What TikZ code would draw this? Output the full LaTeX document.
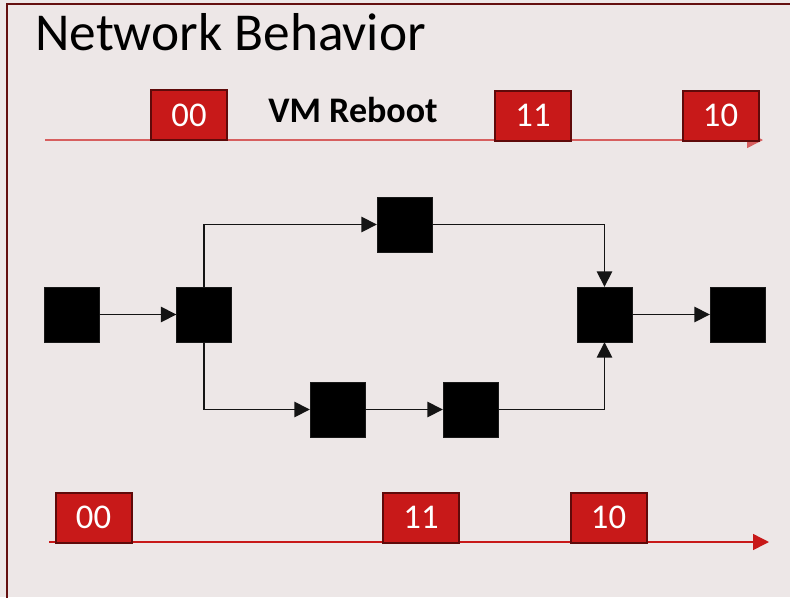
\documentclass[tikz,border=0pt]{standalone}
\usepackage{fontspec}
\setmainfont{Carlito}
\usetikzlibrary{arrows.meta}
\definecolor{bg}{RGB}{237,231,231}
\definecolor{framec}{RGB}{100,15,15}
\definecolor{boxred}{RGB}{200,25,25}
\definecolor{boxedge}{RGB}{95,10,10}
\definecolor{lightline}{RGB}{215,95,95}
\definecolor{darkline}{RGB}{200,25,25}
\definecolor{connc}{RGB}{20,20,20}
\begin{document}
\begin{tikzpicture}[x=0.75pt,y=-0.75pt,
  blk/.style={fill=black,draw=black!80!gray,line width=0.3pt,minimum size=41.25pt,inner sep=0pt},
  tbox/.style={fill=boxred,draw=boxedge,line width=1.5pt,minimum width=57pt,minimum height=37.5pt,inner sep=0pt,text=white,font=\fontsize{26}{26}\selectfont},
  conn/.style={draw=connc,line width=1.2pt,-{Triangle[length=11.5pt,width=11.5pt]}},
  tline/.style={line width=1.1pt,-{Triangle[length=12pt,width=12pt]}}]
\useasboundingbox (0,0) rectangle (790,597);
\fill[bg] (0,0) rectangle (790,597);
\draw[framec,line width=1.6pt] (7,4) rectangle (820,620);
% title
\node[anchor=base west,inner sep=0pt,font=\fontsize{40}{40}\selectfont] (title) at (35,50) {Network Behavior};
% top timeline
\coordinate (t1s) at (45,140);
\coordinate (t1e) at (763,140);
\draw[tline,draw=lightline] (t1s) -- (t1e);
\node[tbox] (ta) at (189,115) {00};
\node[font=\bfseries\fontsize{27}{27}\selectfont,inner sep=0pt] (vm) at (353,110) {VM Reboot};
\node[tbox] (tb) at (533,115.5) {11};
\node[tbox] (tc) at (720.5,115.5) {10};
% bottom timeline
\coordinate (t2s) at (49,542);
\coordinate (t2e) at (769,542);
\draw[tline,draw=darkline] (t2s) -- (t2e);
\node[tbox] (ba) at (93.5,517.5) {00};
\node[tbox] (bb) at (421,517.5) {11};
\node[tbox] (bc) at (608.5,517.5) {10};
% network
\node[blk] (a) at (71.5,314.5) {};
\node[blk] (b) at (204,314.5) {};
\node[blk] (c) at (404.5,224.5) {};
\node[blk] (d) at (337.5,409.5) {};
\node[blk] (e) at (470.5,409.5) {};
\node[blk] (f) at (604.5,314.5) {};
\node[blk] (g) at (737.5,314.5) {};
\draw[conn] (a) -- (b);
\draw[conn] (b.north) |- (c.west);
\draw[conn] (c.east) -| (f.north);
\draw[conn] (b.south) |- (d.west);
\draw[conn] (d) -- (e);
\draw[conn] (e.east) -| (f.south);
\draw[conn] (f) -- (g);
\end{tikzpicture}
\end{document}
